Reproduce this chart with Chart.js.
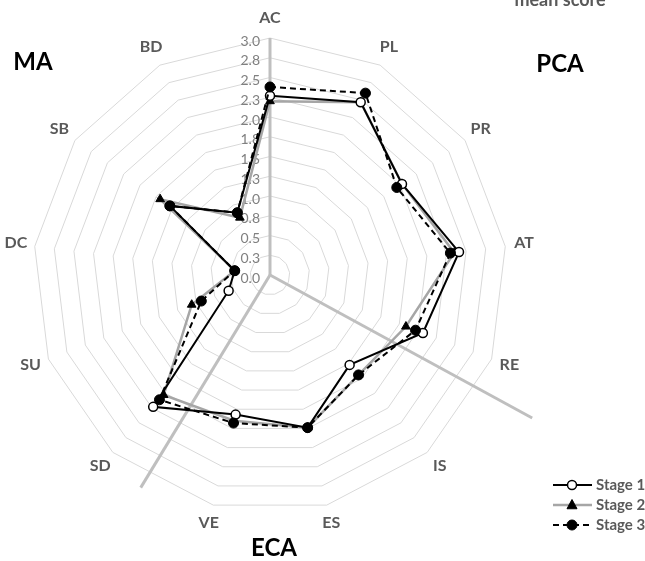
<!DOCTYPE html>
<html>
<head>
<meta charset="utf-8">
<script src="https://cdn.jsdelivr.net/npm/chart.js@4.4.1/dist/chart.umd.min.js"></script>
<style>
  html, body { margin: 0; padding: 0; background: #fff; }
  #wrap { width: 645px; height: 561px; position: relative; }
</style>
</head>
<body>
<div id="wrap"><canvas id="radar"></canvas></div>
<script>
// categories clockwise from the top
const categories = ['AC', 'PL', 'PR', 'AT', 'RE', 'IS', 'ES', 'VE', 'SD', 'SU', 'DC', 'SB', 'BD'];
const stage1 = [2.27, 2.47, 2.03, 2.41, 2.07, 1.52, 1.99, 1.82, 2.23, 0.56, 0.45, 1.54, 0.89];
const stage2 = [2.20, 2.47, 2.03, 2.35, 1.84, 1.69, 1.99, 1.90, 2.03, 1.06, 0.45, 1.69, 0.82];
const stage3 = [2.38, 2.60, 1.95, 2.30, 1.97, 1.69, 1.99, 1.93, 2.11, 0.93, 0.45, 1.54, 0.89];
const tickLabels = ['0.0', '0.3', '0.5', '0.8', '1.0', '1.3', '1.5', '1.8', '2.0', '2.3', '2.5', '2.8', '3.0'];
const seriesNames = ['Stage 1', 'Stage 2', 'Stage 3'];

const FONT = 'Lato, "Open Sans", sans-serif';
const STEP_DEG = 360 / categories.length;

// marker helper (legend uses the same look as the chart points)
function marker(ctx, ds, x, y) {
  ctx.save();
  ctx.fillStyle = ds.pointBackgroundColor;
  ctx.strokeStyle = ds.pointBorderColor;
  ctx.lineWidth = ds.pointBorderWidth;
  ctx.setLineDash([]);
  const r = ds.pointRadius;
  ctx.beginPath();
  if (ds.pointStyle === 'triangle') {
    ctx.moveTo(x, y - r * 1.1);
    ctx.lineTo(x + r, y + r * 0.75);
    ctx.lineTo(x - r, y + r * 0.75);
    ctx.closePath();
  } else {
    ctx.arc(x, y, r, 0, Math.PI * 2);
  }
  ctx.fill();
  ctx.stroke();
  ctx.restore();
}

const decor = {
  id: 'decor',
  beforeDatasetsDraw(chart) {
    const s = chart.scales.r, ctx = chart.ctx;
    const R = s.drawingArea;
    ctx.save();

    // thick grey section dividers (MA / PCA / ECA)
    ctx.strokeStyle = '#bfbfbf';
    ctx.lineWidth = 3;
    [[0, 1.0], [118.6 / STEP_DEG, 1.26], [211.3 / STEP_DEG, 1.05]].forEach(([idx, len]) => {
      const p = s.getPointPosition(idx, R * len);
      ctx.beginPath();
      ctx.moveTo(s.xCenter, s.yCenter);
      ctx.lineTo(p.x, p.y);
      ctx.stroke();
    });

    // value axis labels, left of the AC axis
    ctx.font = '14px ' + FONT;
    ctx.fillStyle = '#808080';
    ctx.textAlign = 'right';
    ctx.textBaseline = 'middle';
    s.ticks.forEach((t, i) => {
      const y = s.yCenter - s.getDistanceFromCenterForValue(t.value);
      ctx.fillText(tickLabels[i], s.xCenter - 10, y + 3);
    });

    // category labels
    ctx.font = 'bold 16px ' + FONT;
    ctx.fillStyle = '#595959';
    ctx.textAlign = 'center';
    categories.forEach((c, i) => {
      const p = s.getPointPosition(i, R + 19);
      ctx.fillText(c, p.x, p.y - 1);
    });
    ctx.restore();
  },
  afterDraw(chart) {
    const ctx = chart.ctx;
    ctx.save();

    // group titles
    ctx.font = 'bold 24px ' + FONT;
    ctx.fillStyle = '#000';
    ctx.textAlign = 'center';
    ctx.textBaseline = 'middle';
    ctx.fillText('MA', 33, 62);
    ctx.fillText('PCA', 560, 64);
    ctx.fillText('ECA', 274, 548);

    // clipped axis title at the top edge
    ctx.font = 'bold 18px ' + FONT;
    ctx.fillStyle = '#595959';
    ctx.textBaseline = 'alphabetic';
    ctx.fillText('mean score', 560, 6);

    // legend
    ctx.font = 'bold 15px ' + FONT;
    ctx.textAlign = 'left';
    ctx.textBaseline = 'middle';
    chart.data.datasets.forEach((ds, i) => {
      const y = 485 + i * 20;
      ctx.save();
      ctx.strokeStyle = ds.borderColor;
      ctx.lineWidth = ds.borderWidth;
      ctx.setLineDash(ds.borderDash || []);
      ctx.beginPath();
      ctx.moveTo(553, y);
      ctx.lineTo(592, y);
      ctx.stroke();
      ctx.restore();
      marker(ctx, ds, 572, y);
      ctx.fillStyle = '#595959';
      ctx.fillText(ds.label, 596, y);
    });
    ctx.restore();
  }
};

new Chart(document.getElementById('radar'), {
  type: 'radar',
  data: {
    labels: categories,
    datasets: [
      {
        label: seriesNames[0], data: stage1, order: 2,
        borderColor: '#000', borderWidth: 2, fill: false,
        pointStyle: 'circle', pointRadius: 4.5, pointBackgroundColor: '#fff',
        pointBorderColor: '#000', pointBorderWidth: 1.5
      },
      {
        label: seriesNames[1], data: stage2, order: 3,
        borderColor: '#a6a6a6', borderWidth: 2.5, fill: false,
        pointStyle: 'triangle', pointRadius: 5, pointBackgroundColor: '#000',
        pointBorderColor: '#000', pointBorderWidth: 1
      },
      {
        label: seriesNames[2], data: stage3, order: 1,
        borderColor: '#000', borderWidth: 2, borderDash: [6, 4], fill: false,
        pointStyle: 'circle', pointRadius: 5, pointBackgroundColor: '#000',
        pointBorderColor: '#000', pointBorderWidth: 1
      }
    ]
  },
  options: {
    responsive: true,
    maintainAspectRatio: false,
    animation: false,
    layout: { padding: { left: 33, right: 138, top: 38, bottom: 49 } },
    plugins: { legend: { display: false }, tooltip: { enabled: false } },
    elements: { line: { tension: 0 } },
    scales: {
      r: {
        min: 0, max: 3,
        ticks: { stepSize: 0.25, display: false },
        pointLabels: { display: false },
        angleLines: { display: false },
        grid: { color: '#d9d9d9', lineWidth: 1, circular: false }
      }
    }
  },
  plugins: [decor]
});
</script>
</body>
</html>
